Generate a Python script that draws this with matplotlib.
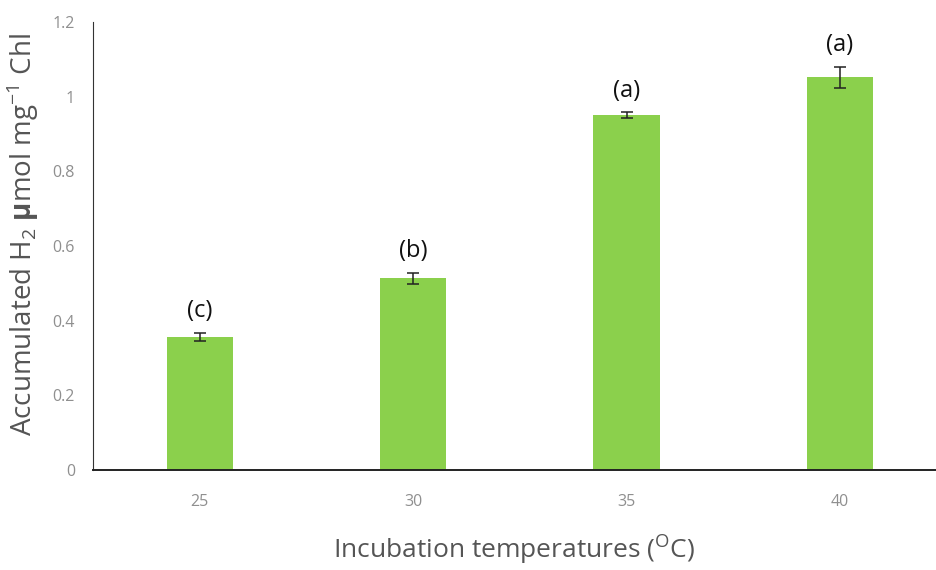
import numpy as np
import matplotlib
matplotlib.use("Agg")
import matplotlib.pyplot as plt

temps = ["25", "30", "35", "40"]
h2 = [0.356, 0.513, 0.950, 1.052]
err = [0.011, 0.016, 0.008, 0.028]
groups = ["(c)", "(b)", "(a)", "(a)"]

plt.rcParams['font.family'] = ['Open Sans', 'DejaVu Sans']
plt.rcParams['mathtext.fontset'] = 'custom'
plt.rcParams['mathtext.rm'] = 'Open Sans'
plt.rcParams['mathtext.bf'] = 'Open Sans:bold'

fig = plt.figure(figsize=(9.36, 5.70), dpi=100)
ax = fig.add_axes([93/936, 100/570, (936-93)/936, 448/570])

x = np.arange(len(temps))
ax.bar(x, h2, width=0.31, color='#8BD04C', zorder=2)
ax.errorbar(x, h2, yerr=err, fmt='none', ecolor='#222222', elinewidth=1.1,
            capsize=4, capthick=1.1, zorder=3)

for xi, v, e, g in zip(x, h2, err, groups):
    ax.annotate(g, (xi, v + e), xytext=(0, 7), textcoords='offset points',
                ha='center', va='bottom', fontsize=17, color='#111111')

ax.set_xlim(-0.5, 3.45)
ax.set_ylim(0, 1.2)
ax.set_yticks(np.arange(0, 1.21, 0.2))
ax.set_yticklabels(['0', '0.2', '0.4', '0.6', '0.8', '1', '1.2'])
ax.set_xticks(x)
ax.set_xticklabels(temps)
ax.tick_params(length=0, labelsize=11.5, labelcolor='#8f8f8f')
ax.tick_params(axis='x', pad=17)
ax.tick_params(axis='y', pad=13)

for s in ['top', 'right']:
    ax.spines[s].set_visible(False)
ax.spines['left'].set_color('#333333')
ax.spines['bottom'].set_color('#222222')
ax.spines['bottom'].set_linewidth(1.4)

ax.set_xlabel('Incubation temperatures ($^{\\mathregular{O}}$C)', fontsize=19,
              color='#555555', labelpad=16)
ax.set_ylabel('Accumulated H$_{\\mathregular{2}}$ $\\mathbf{\\mu}$mol mg$^{\\mathregular{-1}}$ Chl',
              fontsize=20, color='#555555')
ax.yaxis.set_label_coords(-0.062, 0.525)

fig.savefig('out.png', dpi=100)
